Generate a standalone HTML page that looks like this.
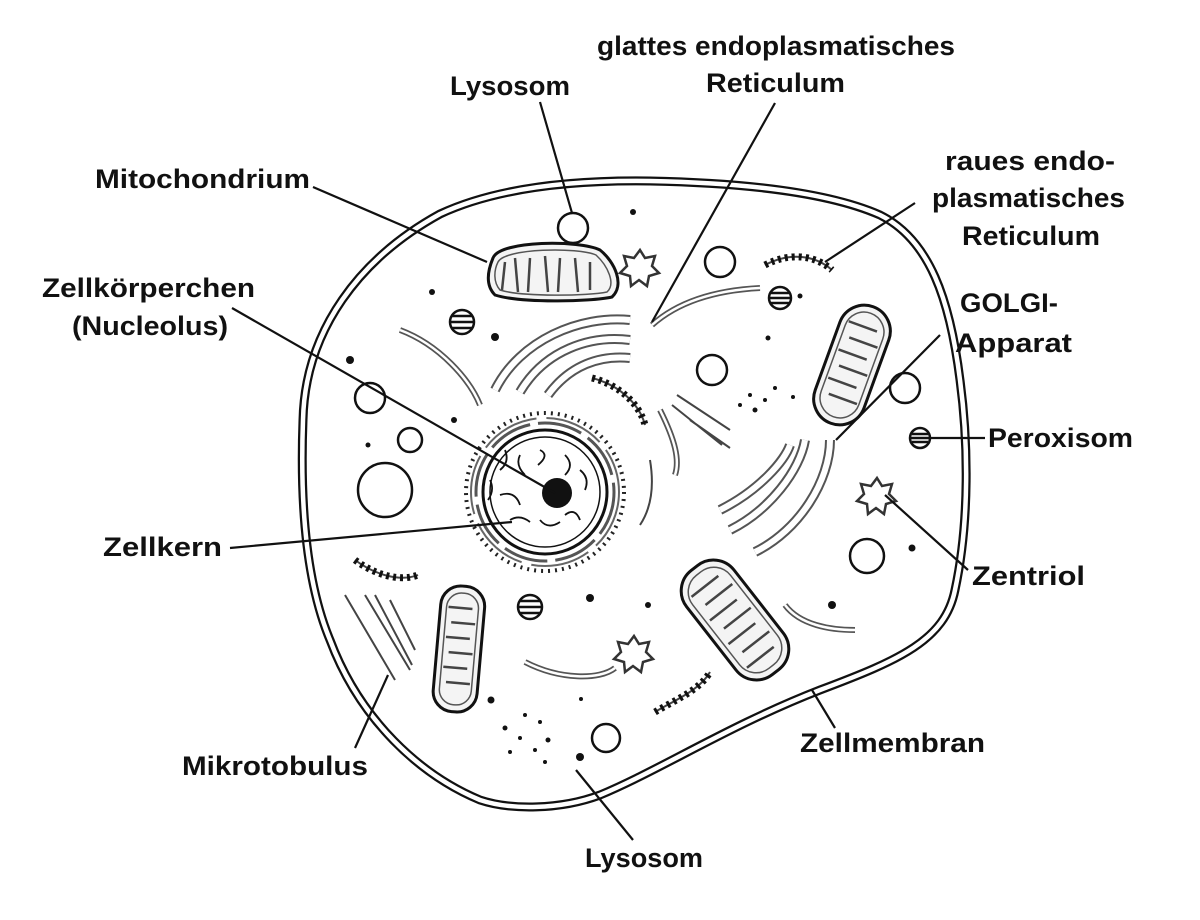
<!DOCTYPE html>
<html><head><meta charset="utf-8"><style>
html,body{margin:0;padding:0;background:#fff;}
svg{display:block}
text{font-family:"Liberation Sans",sans-serif;font-weight:bold;font-size:27px;fill:#111}
</style></head><body>
<svg width="1200" height="920" viewBox="0 0 1200 920" xmlns="http://www.w3.org/2000/svg">
<!-- membrane double line -->
<path d="M303 420 C305 330 360 258 440 214 C500 186 580 180 650 181 C750 183 830 193 880 215 C930 240 950 300 960 380 C968 440 970 520 955 590 C945 640 900 660 820 690 C730 725 660 770 600 795 C560 810 510 810 480 800 C420 775 360 720 330 640 C305 580 300 500 303 420 Z" fill="none" stroke="#111" stroke-width="9"/>
<path d="M303 420 C305 330 360 258 440 214 C500 186 580 180 650 181 C750 183 830 193 880 215 C930 240 950 300 960 380 C968 440 970 520 955 590 C945 640 900 660 820 690 C730 725 660 770 600 795 C560 810 510 810 480 800 C420 775 360 720 330 640 C305 580 300 500 303 420 Z" fill="none" stroke="#fff" stroke-width="4.5"/>

<g fill="none" stroke="#111" stroke-width="2.5">
<!-- vacuoles -->
<circle cx="573" cy="228" r="15"/><circle cx="720" cy="262" r="15"/>
<circle cx="370" cy="398" r="15"/><circle cx="410" cy="440" r="12"/>
<circle cx="385" cy="490" r="27"/><circle cx="712" cy="370" r="15"/>
<circle cx="905" cy="388" r="15"/><circle cx="867" cy="556" r="17"/>
<circle cx="606" cy="738" r="14"/>
<!-- nucleus -->
<circle cx="545" cy="492" r="62" stroke-width="3"/>
<circle cx="545" cy="492" r="55" stroke-width="1.5"/>
<circle cx="545" cy="492" r="69" stroke="#555" stroke-width="3" stroke-dasharray="45 8"/>
<circle cx="545" cy="492" r="74" stroke="#666" stroke-width="2" stroke-dasharray="60 10"/>
<circle cx="545" cy="492" r="79" stroke="#222" stroke-width="4" stroke-dasharray="2 5"/>
<path d="M500 470 q10 -8 5 -20 M520 455 q-5 10 5 20 M540 450 q10 5 -2 15 M565 455 q10 10 0 20 M580 470 q10 8 5 20 M500 495 q15 -5 20 10 M510 520 q10 -6 20 2 M540 520 q8 10 20 2 M565 515 q10 -8 15 5 M490 480 q5 10 -2 20" stroke-width="1.8"/>
<!-- golgi top -->
<path d="M495 390 C520 340 580 315 630 320 M520 392 C545 350 590 335 630 340 M548 395 C570 365 600 355 630 358" stroke="#555" stroke-width="10"/>
<path d="M495 390 C520 340 580 315 630 320 M520 392 C545 350 590 335 630 340 M548 395 C570 365 600 355 630 358" stroke="#fff" stroke-width="6"/>
<!-- golgi right -->
<path d="M720 510 C760 490 785 460 790 445 M730 530 C770 510 800 470 805 440 M755 552 C800 530 830 480 830 440" stroke="#555" stroke-width="10"/>
<path d="M720 510 C760 490 785 460 790 445 M730 530 C770 510 800 470 805 440 M755 552 C800 530 830 480 830 440" stroke="#fff" stroke-width="6"/>
<!-- smooth ER strips -->
<path d="M400 330 C440 345 470 380 480 405 M652 325 C680 300 720 290 760 288 M660 410 C675 440 680 460 675 475 M525 662 C560 680 600 680 615 668 M785 605 C800 625 830 630 855 630" stroke="#555" stroke-width="6"/>
<path d="M400 330 C440 345 470 380 480 405 M652 325 C680 300 720 290 760 288 M660 410 C675 440 680 460 675 475 M525 662 C560 680 600 680 615 668 M785 605 C800 625 830 630 855 630" stroke="#fff" stroke-width="2.5"/>
<path d="M650 460 C655 490 650 510 640 525 M677 395 L730 430 M672 405 L722 445 M690 420 L730 448 M345 595 L395 680 M365 595 L410 670 M375 595 L412 665 M390 600 L415 650" stroke="#444" stroke-width="2"/>
<!-- rough ER -->
<path d="M592 378 C620 385 640 405 645 425 M765 265 C790 252 815 255 832 270 M355 560 C375 575 400 582 418 575 M655 712 C675 700 700 690 710 672" stroke="#444" stroke-width="2"/>
<path d="M592 378 C620 385 640 405 645 425 M765 265 C790 252 815 255 832 270 M355 560 C375 575 400 582 418 575 M655 712 C675 700 700 690 710 672" stroke="#111" stroke-width="7" stroke-dasharray="3 4"/>
<!-- mitochondria -->
<path d="M493 258 C500 240 580 240 600 250 C615 262 625 285 612 297 C590 302 520 303 495 295 C485 285 488 270 493 258 Z" stroke-width="3" fill="#f4f4f4"/>
<path d="M498 262 C505 248 578 247 596 255 C608 266 616 284 607 292 C588 296 522 297 500 290 C493 282 494 270 498 262 Z" stroke="#555" stroke-width="1.5"/>
<g transform="translate(852 365) rotate(20)"><rect x="-26" y="-62" width="52" height="124" rx="26" stroke-width="3" fill="#f4f4f4"/><rect x="-20" y="-55" width="40" height="110" rx="20" stroke="#555" stroke-width="1.5"/></g>
<g transform="translate(459 648) rotate(5)"><rect x="-22" y="-62" width="44" height="126" rx="20" stroke-width="3" fill="#f4f4f4"/><rect x="-16" y="-55" width="32" height="112" rx="15" stroke="#555" stroke-width="1.5"/></g>
<g transform="translate(735 620) rotate(-38)"><rect x="-30" y="-66" width="60" height="132" rx="26" stroke-width="3" fill="#f4f4f4"/><rect x="-24" y="-59" width="48" height="118" rx="21" stroke="#555" stroke-width="1.5"/></g>
<g stroke="#444" stroke-width="2.5">
<path d="M505 262 L502 290 M515 258 L518 292 M530 258 L528 292 M545 256 L548 292 M560 258 L558 292 M575 258 L578 292 M590 262 L590 290"/>
<g transform="translate(852 365) rotate(20)"><path d="M-18 -40 H12 M-12 -25 H18 M-18 -10 H12 M-12 5 H18 M-18 20 H12 M-12 35 H18"/></g>
<g transform="translate(459 648) rotate(5)"><path d="M-14 -40 H10 M-10 -25 H14 M-14 -10 H10 M-10 5 H14 M-14 20 H10 M-10 35 H14"/></g>
<g transform="translate(735 620) rotate(-38)"><path d="M-20 -45 H14 M-14 -30 H20 M-20 -15 H14 M-14 0 H20 M-20 15 H14 M-14 30 H20 M-20 45 H14"/></g>
</g>
<!-- striped peroxisomes -->
<circle cx="462" cy="322" r="12"/><circle cx="780" cy="298" r="11"/>
<circle cx="530" cy="607" r="12"/><circle cx="920" cy="438" r="10"/>
<path d="M452 316 H472 M451 322 H473 M452 328 H472 M771 293 H789 M770 298 H790 M771 303 H789 M520 601 H540 M519 607 H541 M520 613 H540 M912 434 H928 M911 438 H929 M912 442 H928" stroke-width="2.5"/>
<!-- centrioles stars -->
<path d="M640 250 l5 8 10 -2 -3 10 7 7 -10 3 -2 10 -8 -6 -8 6 -1 -10 -10 -3 7 -7 -3 -10 10 2 Z" stroke="#333" stroke-width="2.5"/>
<path d="M877 478 l5 8 10 -2 -3 10 7 7 -10 3 -2 10 -8 -6 -8 6 -1 -10 -10 -3 7 -7 -3 -10 10 2 Z" stroke="#333" stroke-width="2.5"/>
<path d="M634 636 l5 8 10 -2 -3 10 7 7 -10 3 -2 10 -8 -6 -8 6 -1 -10 -10 -3 7 -7 -3 -10 10 2 Z" stroke="#333" stroke-width="2.5"/>
</g>
<!-- nucleolus and dots -->
<g fill="#111">
<circle cx="557" cy="493" r="15"/>
<circle cx="432" cy="292" r="3"/><circle cx="495" cy="337" r="4"/><circle cx="350" cy="360" r="4"/>
<circle cx="454" cy="420" r="3"/><circle cx="368" cy="445" r="2.5"/><circle cx="633" cy="212" r="3"/>
<circle cx="800" cy="296" r="2.5"/><circle cx="768" cy="338" r="2.5"/><circle cx="912" cy="548" r="3.5"/>
<circle cx="832" cy="605" r="4"/><circle cx="648" cy="605" r="3"/><circle cx="590" cy="598" r="4"/>
<circle cx="491" cy="700" r="3.5"/><circle cx="580" cy="757" r="4"/><circle cx="581" cy="699" r="2"/>
<circle cx="750" cy="395" r="2"/><circle cx="765" cy="400" r="2"/><circle cx="755" cy="410" r="2.5"/>
<circle cx="740" cy="405" r="2"/><circle cx="775" cy="388" r="2"/><circle cx="793" cy="397" r="2"/>
<circle cx="505" cy="728" r="2.5"/><circle cx="520" cy="738" r="2"/><circle cx="540" cy="722" r="2"/>
<circle cx="548" cy="740" r="2.5"/><circle cx="525" cy="715" r="2"/><circle cx="510" cy="752" r="2"/>
<circle cx="545" cy="762" r="2"/><circle cx="535" cy="750" r="2"/>
</g>
<!-- connectors -->
<g stroke="#111" stroke-width="2.2" fill="none">
<path d="M540 102 L572 213"/>
<path d="M775 103 L652 322"/>
<path d="M313 187 L487 262"/>
<path d="M915 203 L825 262"/>
<path d="M232 308 L555 493"/>
<path d="M940 335 L836 440"/>
<path d="M930 438 L985 438"/>
<path d="M230 548 L512 522"/>
<path d="M885 495 L968 570"/>
<path d="M355 748 L388 675"/>
<path d="M835 728 L812 690"/>
<path d="M633 840 L576 770"/>
</g>
<!-- labels -->
<text x="450" y="95" textLength="120" lengthAdjust="spacingAndGlyphs">Lysosom</text>
<text x="597" y="55" textLength="358" lengthAdjust="spacingAndGlyphs">glattes endoplasmatisches</text>
<text x="706" y="92" textLength="139" lengthAdjust="spacingAndGlyphs">Reticulum</text>
<text x="95" y="188" textLength="215" lengthAdjust="spacingAndGlyphs">Mitochondrium</text>
<text x="945" y="170" textLength="170" lengthAdjust="spacingAndGlyphs">raues endo-</text>
<text x="932" y="207" textLength="193" lengthAdjust="spacingAndGlyphs">plasmatisches</text>
<text x="962" y="245" textLength="138" lengthAdjust="spacingAndGlyphs">Reticulum</text>
<text x="42" y="297" textLength="213" lengthAdjust="spacingAndGlyphs">Zellkörperchen</text>
<text x="72" y="335" textLength="156" lengthAdjust="spacingAndGlyphs">(Nucleolus)</text>
<text x="960" y="312" textLength="98" lengthAdjust="spacingAndGlyphs">GOLGI-</text>
<text x="955" y="352" textLength="117" lengthAdjust="spacingAndGlyphs">Apparat</text>
<text x="988" y="447" textLength="145" lengthAdjust="spacingAndGlyphs">Peroxisom</text>
<text x="103" y="556" textLength="119" lengthAdjust="spacingAndGlyphs">Zellkern</text>
<text x="972" y="585" textLength="113" lengthAdjust="spacingAndGlyphs">Zentriol</text>
<text x="800" y="752" textLength="185" lengthAdjust="spacingAndGlyphs">Zellmembran</text>
<text x="182" y="775" textLength="186" lengthAdjust="spacingAndGlyphs">Mikrotobulus</text>
<text x="585" y="867" textLength="118" lengthAdjust="spacingAndGlyphs">Lysosom</text>
</svg>
</body></html>
